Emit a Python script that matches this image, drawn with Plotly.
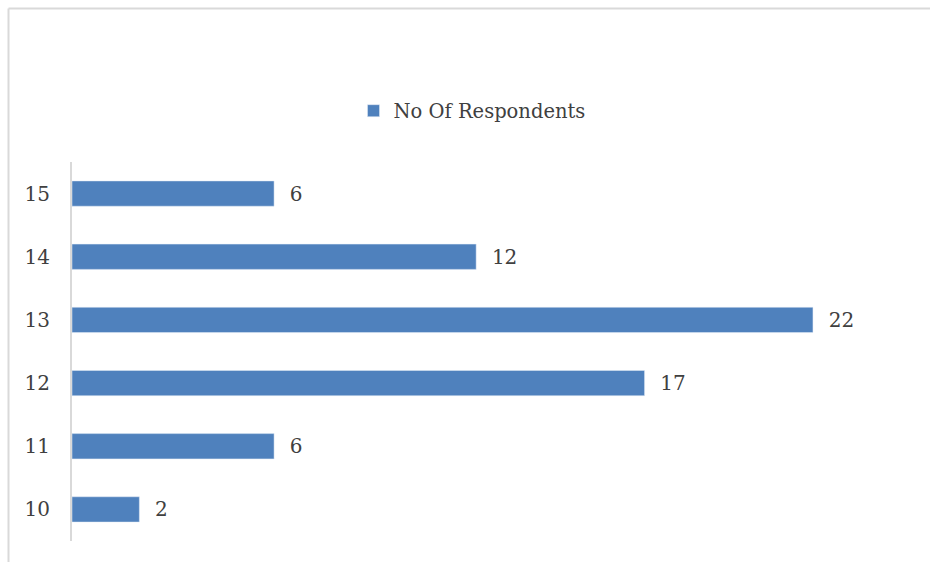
import plotly.graph_objects as go

# Age groups and number of respondents in each
ages = ["10", "11", "12", "13", "14", "15"]
respondents = [2, 6, 17, 22, 12, 6]
series_name = "No Of Respondents"

W, H = 930, 562
L, R, T, B = 72, 16, 162, 21
pw, ph = W - L - R, H - T - B


def px_x(p):
    return (p - L) / pw


def px_y(p):
    return (H - B - p) / ph


font_family = "DejaVu Serif, Liberation Serif, serif"
text_color = "#404040"
bar_color = "#4f81bd"
frame_color = "#d9d9d9"

fig = go.Figure(
    go.Bar(
        x=respondents,
        y=ages,
        orientation="h",
        name=series_name,
        marker=dict(color=bar_color),
        text=respondents,
        texttemplate="\u00a0\u00a0%{x}",
        textposition="outside",
        textfont=dict(family=font_family, size=20, color=text_color),
        cliponaxis=False,
        showlegend=True,
    )
)

fig.update_layout(
    width=W,
    height=H,
    margin=dict(l=L, r=R, t=T, b=B, pad=0),
    paper_bgcolor="white",
    plot_bgcolor="white",
    bargap=0.6,
    showlegend=True,
    legend=dict(
        orientation="h",
        x=px_x(472),
        xanchor="center",
        y=px_y(111),
        yanchor="middle",
        font=dict(family=font_family, size=19.5, color=text_color),
        itemwidth=30,
    ),
    xaxis=dict(
        range=[0, 25],
        showgrid=False,
        zeroline=False,
        showticklabels=False,
        showline=False,
    ),
    yaxis=dict(
        type="category",
        categoryorder="array",
        categoryarray=ages,
        showgrid=False,
        zeroline=False,
        showline=True,
        linecolor=frame_color,
        linewidth=2,
        ticks="",
        ticklabelstandoff=16,
        tickfont=dict(family=font_family, size=20, color=text_color),
    ),
    shapes=[
        # outer frame: top and left edges
        dict(type="line", xref="paper", yref="paper",
             x0=px_x(8.5), x1=px_x(935), y0=px_y(8.5), y1=px_y(8.5),
             line=dict(color=frame_color, width=2)),
        dict(type="line", xref="paper", yref="paper",
             x0=px_x(8.5), x1=px_x(8.5), y0=px_y(8.5), y1=px_y(570),
             line=dict(color=frame_color, width=2)),
    ],
)

fig.write_html("out.html")
